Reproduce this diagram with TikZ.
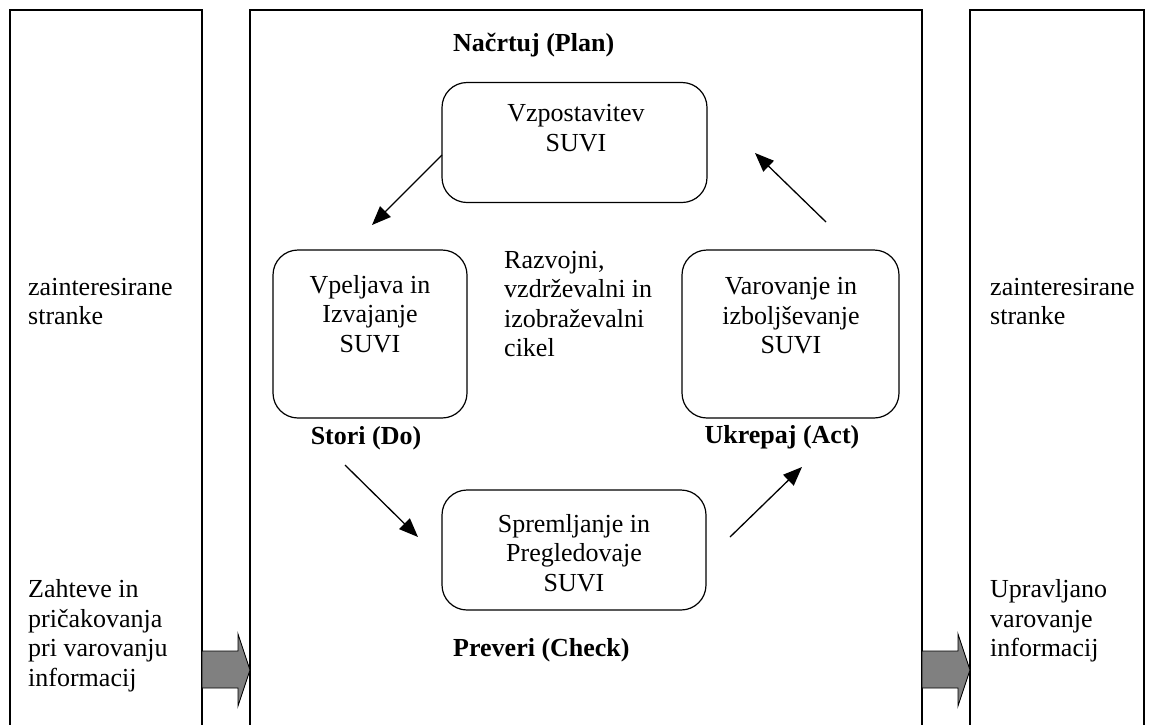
\documentclass[tikz,border=0pt]{standalone}
\usepackage{fontspec}
\setmainfont{Liberation Serif}
\usetikzlibrary{arrows.meta}
\definecolor{arrowgray}{HTML}{808080}
\tikzset{
  frameline/.style={draw=black, line width=1.4pt},
  roundbox/.style={draw=black, line width=1.2pt, rounded corners=25pt, rectangle, inner sep=0pt},
  txt/.style={inner sep=0pt, font=\fontsize{26}{29.5}\selectfont},
  boldtxt/.style={inner sep=0pt, font=\fontsize{26}{29.5}\selectfont\bfseries},
  cyclearrow/.style={draw=black, line width=1.3pt, -{Triangle[length=19pt,width=15pt]}},
  blockarrow/.style={draw=black, line width=0.9pt, fill=arrowgray}
}
\begin{document}
\begin{tikzpicture}[x=1pt,y=-1pt]
\useasboundingbox (0,0) rectangle (1154,724);
\fill[white] (0,0) rectangle (1154,724);

% outer columns
\draw[frameline] (10,726) -- (10,10) -- (202,10) -- (202,726);
\draw[frameline] (250,726) -- (250,10) -- (922,10) -- (922,726);
\draw[frameline] (970,726) -- (970,10) -- (1144,10) -- (1144,726);

% block arrows
\draw[blockarrow] (202,651) -- (238,651) -- (238,634) -- (250,670) -- (238,706) -- (238,688) -- (202,688) -- cycle;
\draw[blockarrow] (922,651) -- (958,651) -- (958,634) -- (970,670) -- (958,706) -- (958,688) -- (922,688) -- cycle;

% side texts
\node[txt, anchor=west, align=left] (lstake) at (28,301.5) {zainteresirane\\stranke};
\node[txt, anchor=west, align=left] (lreq) at (28,635.5) {Zahteve in\\pričakovanja\\pri varovanju\\informacij};
\node[txt, anchor=west, align=left] (rstake) at (990,301.5) {zainteresirane\\stranke};
\node[txt, anchor=west, align=left] (rout) at (990,621) {Upravljano\\varovanje\\informacij};

% rounded boxes
\node[roundbox, minimum width=265pt, minimum height=120pt] (plan) at (574.5,142.5) {};
\node[roundbox, minimum width=194pt, minimum height=168pt] (do) at (370,334) {};
\node[roundbox, minimum width=217pt, minimum height=168pt] (act) at (790.5,334) {};
\node[roundbox, minimum width=264pt, minimum height=120pt] (check) at (574,550) {};

% box texts
\node[txt, align=center] (plantxt) at (576,128) {Vzpostavitev\\SUVI};
\node[txt, align=center] (dotxt) at (370,314) {Vpeljava in\\Izvajanje\\SUVI};
\node[txt, align=center] (acttxt) at (791,316) {Varovanje in\\izboljševanje\\SUVI};
\node[txt, align=center] (checktxt) at (574,553) {Spremljanje in\\Pregledovaje\\SUVI};
\node[txt, anchor=west, align=left] (cycle) at (504,304) {Razvojni,\\vzdrževalni in\\izobraževalni\\cikel};

% phase labels
\node[boldtxt, anchor=west] (planlbl) at (453,45) {Načrtuj (Plan)};
\node[boldtxt] (dolbl) at (366,438) {Stori (Do)};
\node[boldtxt] (actlbl) at (782,437) {Ukrepaj (Act)};
\node[boldtxt, anchor=west] (checklbl) at (453,650) {Preveri (Check)};

% cycle arrows
\coordinate (a1s) at (442,155);
\coordinate (a1e) at (372,225);
\coordinate (a2s) at (345,465);
\coordinate (a2e) at (418,537);
\coordinate (a3s) at (730,537);
\coordinate (a3e) at (802,467);
\coordinate (a4s) at (826,222);
\coordinate (a4e) at (755,153);
\draw[cyclearrow] (a1s) -- (a1e);
\draw[cyclearrow] (a2s) -- (a2e);
\draw[cyclearrow] (a3s) -- (a3e);
\draw[cyclearrow] (a4s) -- (a4e);
\end{tikzpicture}
\end{document}
